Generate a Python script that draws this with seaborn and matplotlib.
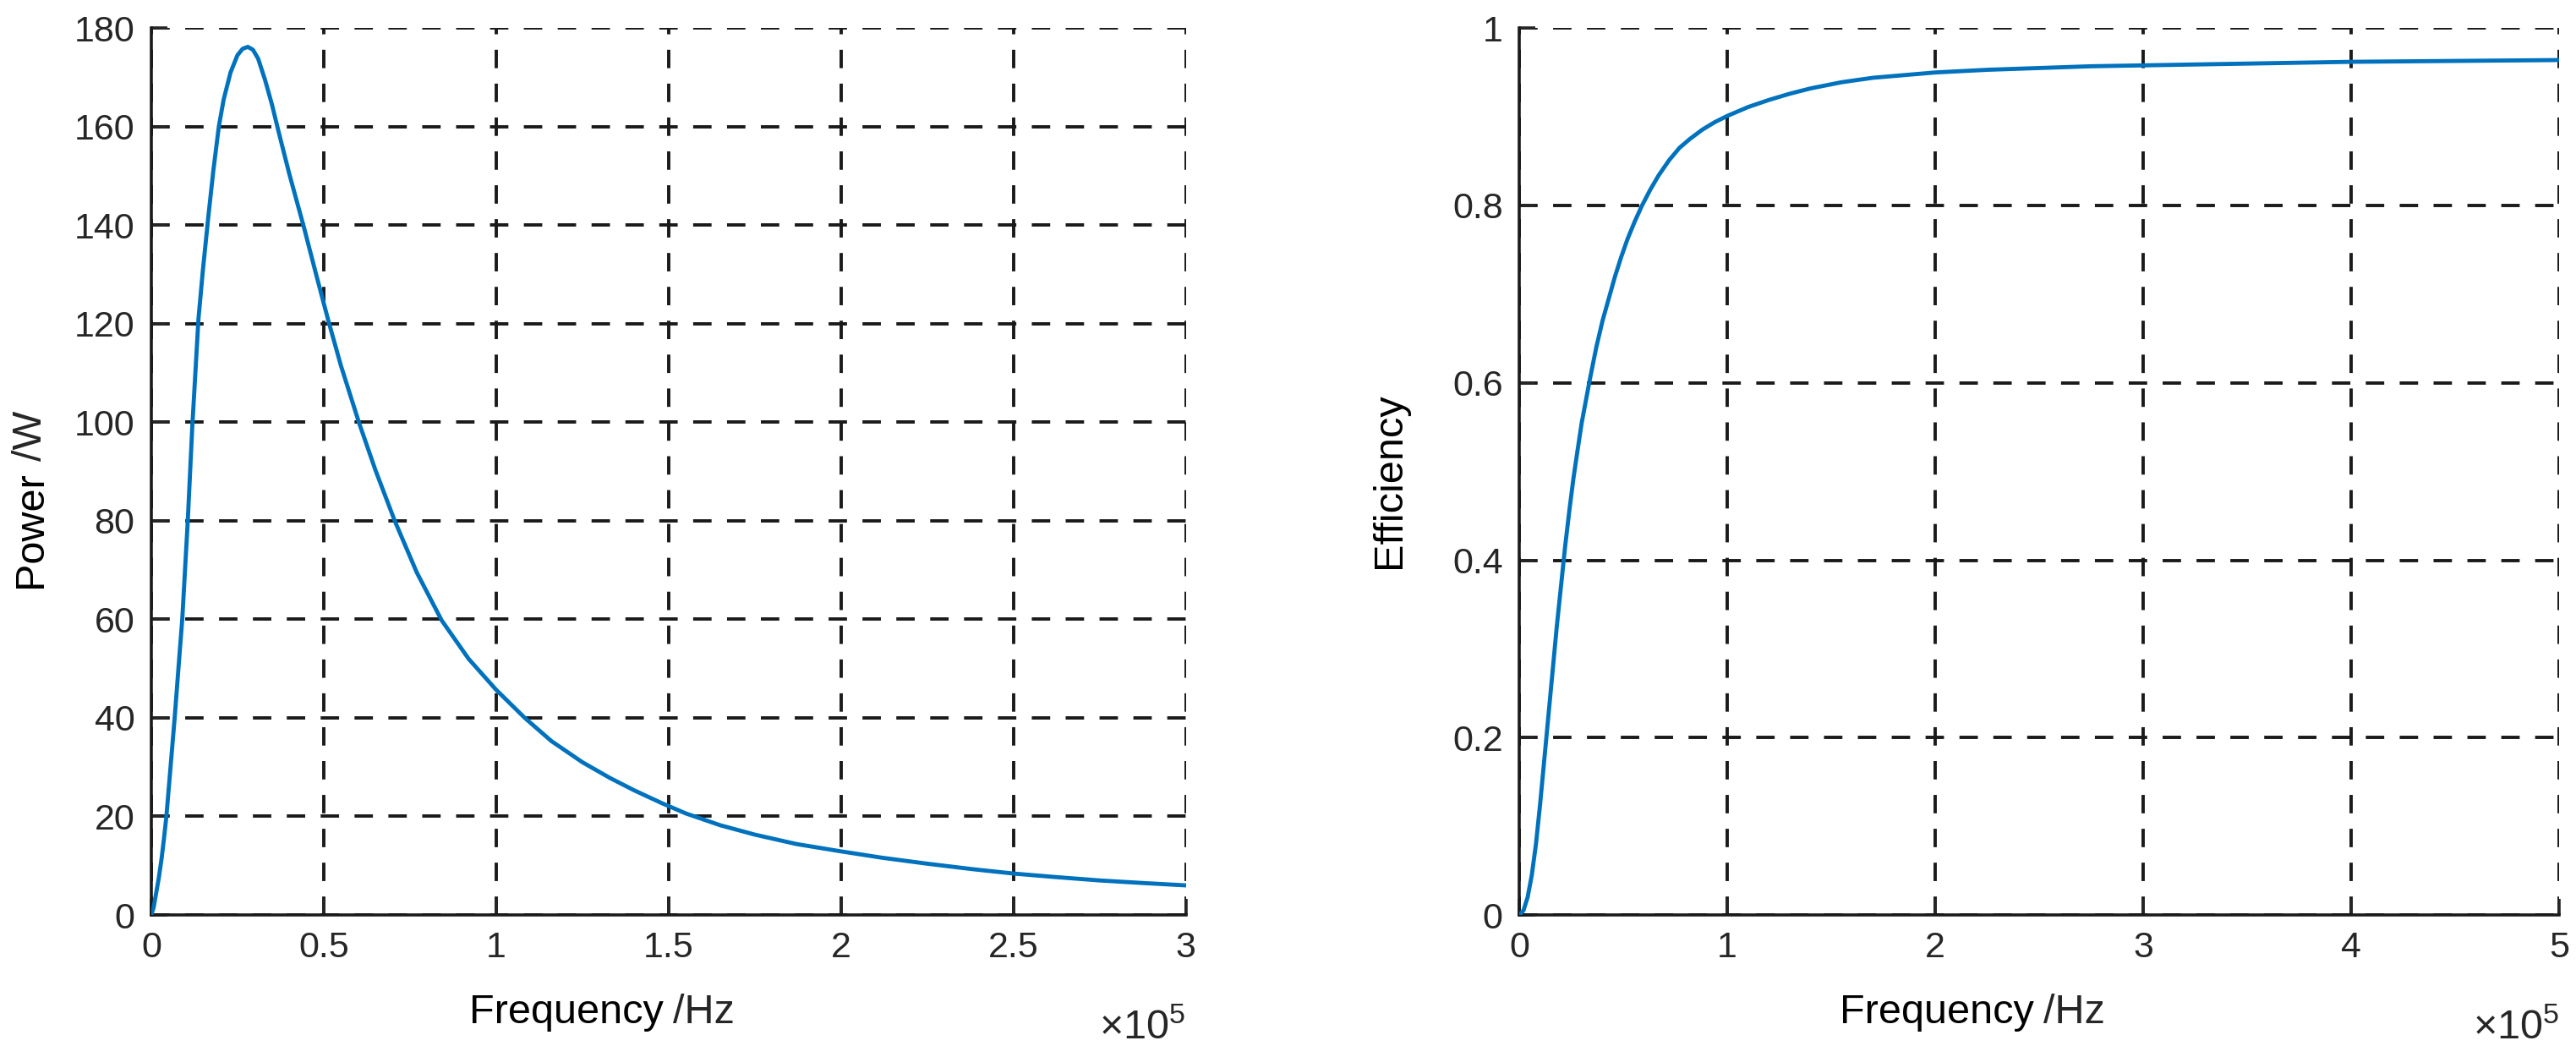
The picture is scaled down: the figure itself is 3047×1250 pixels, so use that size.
import matplotlib
matplotlib.use('Agg')
import matplotlib.pyplot as plt
import seaborn as sns
import pandas as pd

# Power vs frequency (frequency in units of 1e5 Hz)
power_freq = [0.00, 0.007, 0.014, 0.022, 0.030, 0.037, 0.044, 0.056, 0.068, 0.080,
              0.090, 0.098, 0.106, 0.119, 0.137, 0.150, 0.166, 0.180, 0.196, 0.21,
              0.23, 0.25, 0.265, 0.28, 0.295, 0.31, 0.33, 0.35, 0.371, 0.40,
              0.443, 0.48, 0.514, 0.55, 0.602, 0.65, 0.706, 0.77, 0.842, 0.92,
              1.00, 1.083, 1.16, 1.25, 1.33, 1.40, 1.48, 1.55, 1.65, 1.75,
              1.87, 2.00, 2.12, 2.25, 2.38, 2.50, 2.62, 2.75, 2.87, 3.00]
power_w = [0, 1.5, 4.3, 7.5, 11.4, 15.5, 20, 30, 40, 51,
           60, 70, 80, 99, 121, 131, 142, 151, 160, 165.5,
           171, 174.5, 175.8, 176.2, 175.6, 173.8, 169.5, 164.5, 158.5, 150.5,
           139.5, 129.5, 120.5, 111.5, 100, 90.3, 80, 69.5, 59.8, 52,
           45.7, 40, 35.3, 31, 27.8, 25.3, 22.7, 20.6, 18.2, 16.3,
           14.4, 12.9, 11.6, 10.4, 9.3, 8.4, 7.7, 7.0, 6.5, 6.0]

# Efficiency vs frequency (frequency in units of 1e5 Hz)
eff_freq = [0.00, 0.02, 0.04, 0.06, 0.08, 0.10, 0.12, 0.14, 0.16, 0.18,
            0.20, 0.22, 0.24, 0.26, 0.28, 0.30, 0.32, 0.34, 0.37, 0.40,
            0.43, 0.46, 0.49, 0.52, 0.555, 0.59, 0.63, 0.67, 0.72, 0.77,
            0.82, 0.88, 0.94, 1.00, 1.10, 1.20, 1.30, 1.40, 1.55, 1.70,
            1.85, 2.00, 2.25, 2.50, 2.75, 3.00, 3.50, 4.00, 4.50, 5.00]
efficiency = [0.000, 0.005, 0.02, 0.045, 0.08, 0.125, 0.175, 0.225, 0.275, 0.325,
              0.37, 0.415, 0.455, 0.492, 0.524, 0.555, 0.58, 0.605, 0.64, 0.67,
              0.695, 0.72, 0.742, 0.762, 0.782, 0.80, 0.818, 0.834, 0.851, 0.865,
              0.875, 0.8855, 0.894, 0.901, 0.911, 0.919, 0.926, 0.932, 0.939, 0.944,
              0.947, 0.950, 0.953, 0.955, 0.957, 0.958, 0.960, 0.962, 0.963, 0.964]

power_ticks_x = [0, 0.5, 1, 1.5, 2, 2.5, 3]
power_ticks_y = list(range(0, 181, 20))
eff_ticks_x = [0, 1, 2, 3, 4, 5]
eff_ticks_y = [0, 0.2, 0.4, 0.6, 0.8, 1]

sns.set_theme(style="white")
plt.rcParams['font.family'] = ['Liberation Sans', 'DejaVu Sans']
plt.rcParams['mathtext.fontset'] = 'custom'
plt.rcParams['mathtext.rm'] = 'Liberation Sans'

LINE = '#0072BD'
TXT = '#262626'
GRID = '#1a1a1a'

fig = plt.figure(figsize=(30.47, 12.5), dpi=100)
ax1 = fig.add_axes([0.0587, 0.1344, 0.4017, 0.839])
ax2 = fig.add_axes([0.5898, 0.1344, 0.4037, 0.839])

df_p = pd.DataFrame({'f': power_freq, 'P': power_w})
df_e = pd.DataFrame({'f': eff_freq, 'E': efficiency})

sns.lineplot(data=df_p, x='f', y='P', ax=ax1, color=LINE, linewidth=3.5, zorder=3)
sns.lineplot(data=df_e, x='f', y='E', ax=ax2, color=LINE, linewidth=3.5, zorder=3)


def style(ax, xt, yt, xlim, ylim, xlabels, ylabels):
    ax.set_xlim(*xlim)
    ax.set_ylim(*ylim)
    ax.set_xticks(xt)
    ax.set_yticks(yt)
    ax.set_xticklabels(xlabels)
    ax.set_yticklabels(ylabels)
    ax.grid(True, color=GRID, linestyle=(0, (5.6, 4.7)), linewidth=2.8)
    ax.set_axisbelow(True)
    for s in ['top', 'right']:
        ax.spines[s].set_visible(False)
    for s in ['left', 'bottom']:
        ax.spines[s].set_color(GRID)
        ax.spines[s].set_linewidth(2.6)
    ax.tick_params(direction='in', length=14, width=2.6, colors=TXT,
                   labelsize=31, pad=14, left=True, bottom=True)
    ax.set_xlabel('')
    ax.set_ylabel('')
    # x label drawn as name + unit, with the gap the source figure has
    ax.text(0.495, -0.122, 'Frequency', transform=ax.transAxes, ha='right',
            va='baseline', fontsize=35, color='black')
    ax.text(0.504, -0.122, '/Hz', transform=ax.transAxes, ha='left',
            va='baseline', fontsize=35, color=TXT)
    ax.text(1.0, -0.14, r'$\times\mathregular{10^{5}}$', transform=ax.transAxes,
            ha='right', va='baseline', fontsize=35, color=TXT)


style(ax1, power_ticks_x, power_ticks_y, (0, 3), (0, 180),
      ['0', '0.5', '1', '1.5', '2', '2.5', '3'],
      [str(v) for v in power_ticks_y])
style(ax2, eff_ticks_x, eff_ticks_y, (0, 5), (0, 1),
      ['0', '1', '2', '3', '4', '5'],
      ['0', '0.2', '0.4', '0.6', '0.8', '1'])

ax1.text(-0.135, 0.50, 'Power', transform=ax1.transAxes, rotation=90,
         ha='right', va='top', fontsize=35, color='black', rotation_mode='anchor')
ax1.text(-0.135, 0.512, '/W', transform=ax1.transAxes, rotation=90,
         ha='left', va='top', fontsize=35, color=TXT, rotation_mode='anchor')
ax2.text(-0.143, 0.49, 'Efficiency', transform=ax2.transAxes, rotation=90,
         ha='center', va='top', fontsize=35, color='black', rotation_mode='anchor')

plt.savefig('out.png', dpi=100)
plt.close()
